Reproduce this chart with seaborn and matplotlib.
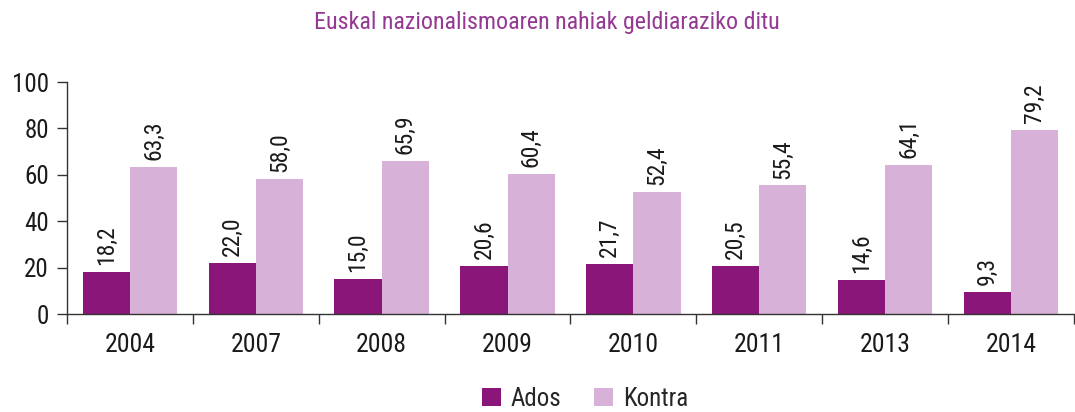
import matplotlib
matplotlib.use("Agg")
import matplotlib.pyplot as plt
import seaborn as sns
import pandas as pd
import numpy as np

years = ["2004", "2007", "2008", "2009", "2010", "2011", "2013", "2014"]
ados = [18.2, 22.0, 15.0, 20.6, 21.7, 20.5, 14.6, 9.3]
kontra = [63.3, 58.0, 65.9, 60.4, 52.4, 55.4, 64.1, 79.2]
series = ["Ados", "Kontra"]
colors = ["#8B1679", "#D7B1D8"]
title = "Euskal nazionalismoaren nahiak geldiaraziko ditu"
yticks = [0, 20, 40, 60, 80, 100]

sns.set_theme(style="white")
plt.rcParams["font.family"] = ["Roboto Condensed", "DejaVu Sans"]
TXT = "#1a1a1a"

df = pd.DataFrame({
    "year": years * 2,
    "value": ados + kontra,
    "series": [series[0]] * len(years) + [series[1]] * len(years),
})

fig = plt.figure(figsize=(10.75, 4.12), dpi=100)
ax = fig.add_axes([67 / 1075, 98 / 412, 1 - 67 / 1075 - 0.001, (314 - 82) / 412])
sns.barplot(data=df, x="year", y="value", hue="series", palette=colors,
            width=0.75, saturation=1, ax=ax, legend=True, linewidth=0, edgecolor="none")

for cont in ax.containers:
    labels = [f"{v:.1f}".replace(".", ",") for v in cont.datavalues]
    ax.bar_label(cont, labels=labels, rotation=90, padding=5, fontsize=17, color=TXT)

ax.set_ylim(0, 100)
ax.set_yticks(yticks)
ax.set_yticklabels([str(t) for t in yticks], fontsize=18, color=TXT)
ax.set_xlim(-0.5, len(years) - 0.5)
ax.set_xticks(np.arange(len(years) + 1) - 0.5)
ax.set_xticklabels([])
ax.set_xticks(np.arange(len(years)), minor=True)
ax.set_xticklabels(years, minor=True, fontsize=18.5, color=TXT)
ax.tick_params(axis="x", which="major", direction="out", length=7, width=1, color="#333333", bottom=True)
ax.tick_params(axis="x", which="minor", length=0, pad=14)
ax.tick_params(axis="y", direction="out", length=7, width=1, color="#333333", left=True, pad=6)
ax.set_xlabel("")
ax.set_ylabel("")
for s in ["top", "right"]:
    ax.spines[s].set_visible(False)
for s in ["left", "bottom"]:
    ax.spines[s].set_color("#333333")
    ax.spines[s].set_linewidth(1)

leg = ax.legend(loc="center", ncol=2, frameon=False, fontsize=18, handlelength=0.75, handleheight=0.75,
                handletextpad=0.4, columnspacing=1.3, borderaxespad=0)
leg.set_bbox_to_anchor((585 / 1075, 13 / 412), transform=fig.transFigure)

fig.text(547 / 1075, 1 - 23 / 412, title, ha="center", va="center", fontsize=17.3, color="#953A93")

fig.savefig("out.png", dpi=100)
